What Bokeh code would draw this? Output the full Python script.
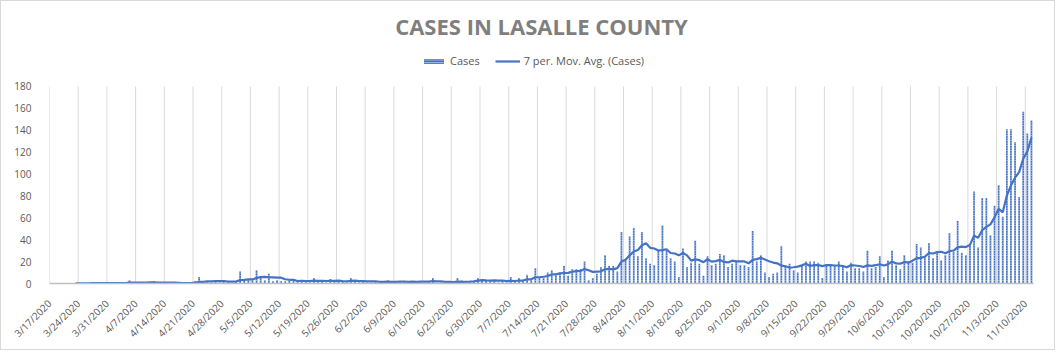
import math
import numpy as np
import pandas as pd
from bokeh.plotting import figure
from bokeh.models import Range1d, FixedTicker, Legend, LegendItem
from bokeh.embed import file_html
from bokeh.resources import INLINE

# ---------------- data ----------------
start_date = "2020-03-17"

cases = [
    0, 0, 0, 0, 0, 0, 1, 0, 0, 0, 1, 0, 0, 1, 0, 1, 0, 0, 1, 3,
    0, 1, 0, 1, 1, 2, 1, 0, 0, 1, 0, 0, 1, 0, 1, 2, 6, 1, 2, 1,
    2, 1, 3, 2, 1, 2, 11, 3, 4, 3, 12, 6, 3, 9, 2, 3, 2, 2, 3, 2,
    2, 3, 2, 1, 5, 2, 2, 1, 4, 2, 2, 2, 1, 5, 2, 1, 2, 1, 1, 2,
    2, 1, 3, 1, 1, 2, 2, 1, 2, 2, 2, 1, 2, 5, 0, 1, 0, 1, 0, 5,
    3, 1, 2, 2, 5, 4, 3, 2, 2, 1, 2, 1, 6, 2, 5, 2, 8, 3, 14, 6,
    5, 10, 12, 8, 10, 16, 7, 13, 13, 13, 20, 3, 5, 9, 15, 26, 16, 16, 11, 47,
    21, 43, 51, 25, 47, 23, 18, 17, 30, 53, 31, 23, 20, 6, 32, 15, 19, 39, 18, 7,
    25, 17, 18, 27, 26, 15, 18, 21, 17, 17, 15, 48, 20, 26, 10, 6, 9, 10, 34, 15,
    18, 12, 10, 17, 20, 20, 20, 19, 5, 17, 17, 17, 20, 17, 11, 19, 14, 14, 11, 30,
    14, 15, 25, 6, 21, 30, 17, 13, 26, 20, 19, 36, 33, 24, 37, 23, 29, 21, 26, 46,
    29, 57, 28, 26, 35, 84, 33, 78, 78, 44, 71, 90, 61, 141, 141, 129, 79, 157, 137, 149,
]

tick_labels = [
    "3/17/2020", "3/24/2020", "3/31/2020", "4/7/2020", "4/14/2020", "4/21/2020",
    "4/28/2020", "5/5/2020", "5/12/2020", "5/19/2020", "5/26/2020", "6/2/2020",
    "6/9/2020", "6/16/2020", "6/23/2020", "6/30/2020", "7/7/2020", "7/14/2020",
    "7/21/2020", "7/28/2020", "8/4/2020", "8/11/2020", "8/18/2020", "8/25/2020",
    "9/1/2020", "9/8/2020", "9/15/2020", "9/22/2020", "9/29/2020", "10/6/2020",
    "10/13/2020", "10/20/2020", "10/27/2020", "11/3/2020", "11/10/2020",
]

y_ticks = [0, 20, 40, 60, 80, 100, 120, 140, 160, 180]
ma_window = 7

# ---------------- derived ----------------
dates = pd.date_range(start_date, periods=len(cases), freq="D")
day_labels = [f"{d.month}/{d.day}/{d.year}" for d in dates]
tick_pos = [day_labels.index(t) for t in tick_labels]      # category boundaries
x_center = np.arange(len(cases)) + 0.5
ma = pd.Series(cases, dtype=float).rolling(ma_window).mean().to_numpy()

BLUE = "#4472C4"
GREY_TXT = "#595959"

p = figure(
    width=1055, height=350,
    output_backend="svg", toolbar_location=None,
    x_range=Range1d(0, len(cases)), y_range=Range1d(0, 222),
    min_border_left=48, min_border_right=23, min_border_top=39, min_border_bottom=68,
    styles={"border": "1px solid #D9D9D9"},
)
p.outline_line_color = None
p.background_fill_color = "white"
p.border_fill_color = "white"

# vertical gridlines at the labelled category boundaries (0..180)
p.segment(x0=tick_pos, y0=y_ticks[0], x1=tick_pos, y1=y_ticks[-1],
          line_color="#D9D9D9", line_width=1)

bars = p.vbar(x=x_center, top=cases, width=0.42, bottom=0,
              fill_color=BLUE, line_color=None,
              hatch_pattern="horizontal_line", hatch_color="white",
              hatch_alpha=0.55, hatch_scale=2.5, hatch_weight=1.0)

line = p.line(x_center, ma, line_color=BLUE, line_width=2.2)

# title
p.title.text = "CASES IN LASALLE COUNTY"
p.title.align = "center"
p.title.text_font = "Open Sans"
p.title.text_font_size = "22px"
p.title.text_font_style = "bold"
p.title.text_color = "#7F7F7F"
p.title.offset = -10
p.title.standoff = 0

# legend
legend = Legend(
    items=[LegendItem(label="Cases", renderers=[bars]),
           LegendItem(label="7 per. Mov. Avg. (Cases)", renderers=[line])],
    orientation="horizontal", location=(372, 215),
    border_line_color=None, background_fill_alpha=0,
    label_text_font="Open Sans", label_text_font_size="11px", label_text_color=GREY_TXT,
    glyph_width=25, glyph_height=6, label_standoff=4, spacing=15,
    padding=0, margin=0,
)
p.add_layout(legend)

# axes
p.xgrid.visible = False
p.ygrid.visible = False

xa = p.xaxis[0]
xa.ticker = FixedTicker(ticks=tick_pos)
xa.major_label_overrides = {t: lab for t, lab in zip(tick_pos, tick_labels)}
xa.major_label_orientation = math.pi / 4
xa.major_tick_line_color = None
xa.minor_tick_line_color = None
xa.axis_line_color = "#BFBFBF"
xa.axis_line_width = 1.5
xa.major_label_text_font = "Open Sans"
xa.major_label_text_font_size = "10px"
xa.major_label_text_color = GREY_TXT
xa.major_label_standoff = 12

ya = p.yaxis[0]
ya.ticker = FixedTicker(ticks=y_ticks)
ya.axis_line_color = None
ya.major_tick_line_color = None
ya.minor_tick_line_color = None
ya.major_label_text_font = "Open Sans"
ya.major_label_text_font_size = "10px"
ya.major_label_text_color = GREY_TXT
ya.major_label_standoff = 12

open("out.html", "w").write(file_html(p, INLINE))
